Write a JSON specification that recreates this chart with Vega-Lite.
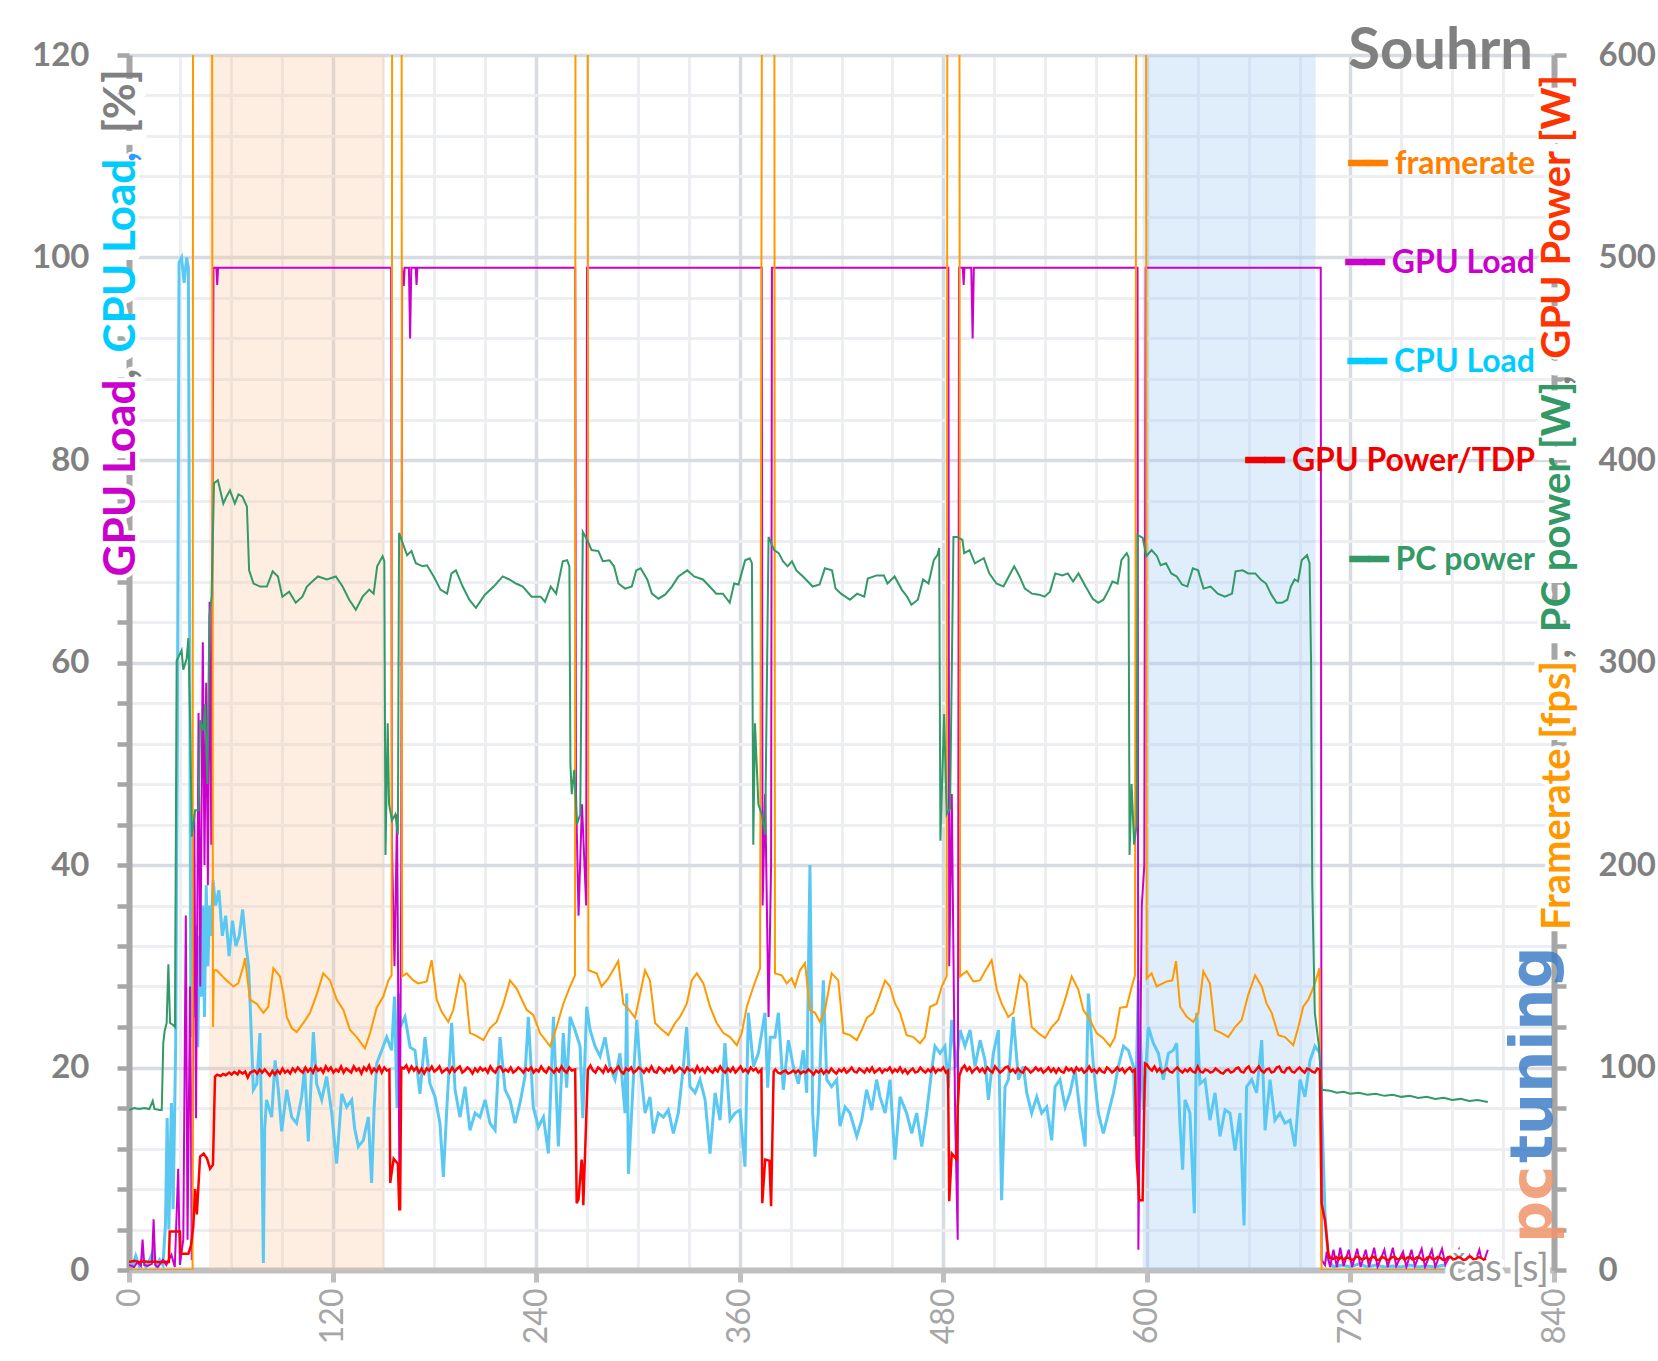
{
  "$schema": "https://vega.github.io/schema/vega-lite/v6.json",
  "width": 1425,
  "height": 1215,
  "autosize": {"type": "none"},
  "padding": {"left": 129, "top": 55, "right": 104, "bottom": 91},
  "background": "#ffffff",
  "config": {"view": {"stroke": null}, "font": "Lato"},
  "title": {"text": "Souhrn", "anchor": "end", "frame": "group", "orient": "top", "offset": -11, "baseline": "alphabetic", "dx": -21, "dy": 77, "font": "Lato", "fontSize": 58, "fontWeight": "bold", "color": "#808080"},
  "datasets": {
    "one": [{}],
    "cpu": [
      {"t":0,"v":0.8},{"t":2,"v":0.3},{"t":4,"v":1.4},{"t":6,"v":0.4},{"t":8,"v":1.2},{"t":10,"v":0.3},{"t":12,"v":0.9},{"t":14,"v":1.8},{"t":16,"v":0.4},{"t":18,"v":1},{"t":20,"v":0.5},{"t":21.5,"v":4.5},{"t":22.5,"v":15},{"t":23.5,"v":4},{"t":25,"v":16.5},{"t":26,"v":6},{"t":27.5,"v":22},{"t":28.5,"v":52},{"t":29.5,"v":99.5},{"t":31,"v":100},{"t":32.5,"v":97.5},{"t":34,"v":100},{"t":35,"v":99},{"t":35.8,"v":60},{"t":36.5,"v":23},{"t":37.5,"v":31},{"t":38.5,"v":25},{"t":39.5,"v":34},{"t":40.5,"v":22},{"t":41.5,"v":33},{"t":42.5,"v":27},{"t":43.5,"v":36},{"t":44.5,"v":25},{"t":45.5,"v":38},{"t":46.5,"v":30},{"t":47.5,"v":36},{"t":48.5,"v":33},
      {"t":49.5,"v":38.5},{"t":51,"v":36},{"t":53,"v":37.5},{"t":55,"v":33},{"t":57,"v":35},{"t":59,"v":31},{"t":61,"v":34.5},{"t":63,"v":32},{"t":65,"v":33},{"t":67,"v":35.6},{"t":69,"v":32},{"t":70.5,"v":30},{"t":71.3,"v":26.7},{"t":73.3,"v":17.8},{"t":75.3,"v":18.4},{"t":77.2,"v":23.4},{"t":78.4,"v":12},{"t":79.2,"v":0.7},{"t":80,"v":14},{"t":81.1,"v":16.8},{"t":84.1,"v":15.1},{"t":86.1,"v":20.7},{"t":88,"v":17.8},{"t":90,"v":13.7},{"t":93,"v":17.8},{"t":95.9,"v":15.1},{"t":98.8,"v":14.5},{"t":101.8,"v":17.1},{"t":103.5,"v":20},{"t":105.7,"v":12.7},{"t":108.7,"v":23.5},{"t":110.6,"v":18.4},{"t":113.6,"v":16.8},{"t":116.5,"v":19.1},{"t":119.5,"v":15.5},{"t":122.4,"v":10.5},{"t":125.4,"v":17.4},{"t":128.3,"v":16.1},{"t":131.3,"v":16.8},{"t":133,"v":14},{"t":135.2,"v":12.2},{"t":138.1,"v":12.8},{"t":141.1,"v":15.1},{"t":143,"v":8.6},{"t":144.5,"v":16},{"t":146,"v":20.4},{"t":149,"v":21.7},{"t":151.9,"v":23},{"t":154.8,"v":21.7},{"t":156.5,"v":27},{"t":158,"v":16},{"t":158.8,"v":27.3},{"t":160,"v":24},
      {"t":162.7,"v":25},{"t":165.7,"v":22},{"t":168.6,"v":21.7},{"t":171.5,"v":17.4},{"t":174.5,"v":23},{"t":177.4,"v":18.4},{"t":180.4,"v":17.1},{"t":183.3,"v":14.5},{"t":185.3,"v":9.2},{"t":187.3,"v":15.8},{"t":190.2,"v":24.4},{"t":192.2,"v":17.8},{"t":195.1,"v":15.1},{"t":198.1,"v":18.1},{"t":201,"v":13.8},{"t":204,"v":15.5},{"t":206.9,"v":15.1},{"t":209.9,"v":16.8},{"t":212.8,"v":14.5},{"t":215.8,"v":13.8},{"t":218.7,"v":23},{"t":221.7,"v":17.8},{"t":224.6,"v":16.8},{"t":227.6,"v":14.5},{"t":230.5,"v":16.5},{"t":233.4,"v":19.1},{"t":235.4,"v":25},{"t":238.3,"v":16.1},{"t":241.3,"v":14.1},{"t":244.3,"v":15.1},{"t":247.2,"v":11.5},{"t":250.2,"v":25},{"t":253.1,"v":12.2},{"t":256,"v":23.4},{"t":258,"v":18},{"t":260,"v":25},{"t":262.9,"v":23.7},{"t":265.9,"v":22.1},{"t":267.5,"v":15},{"t":269.8,"v":26},
      {"t":271.8,"v":23.7},{"t":274.7,"v":22.1},{"t":277.7,"v":21.1},{"t":280.6,"v":23},{"t":283.5,"v":20.1},{"t":286.5,"v":18.8},{"t":289.4,"v":21.4},{"t":292.4,"v":15.5},{"t":293.4,"v":27.3},{"t":294.4,"v":9.5},{"t":297.3,"v":18.8},{"t":299.3,"v":24.7},{"t":301.2,"v":20.4},{"t":304.2,"v":15.5},{"t":307.1,"v":17.1},{"t":309.1,"v":13.5},{"t":312,"v":15.5},{"t":315,"v":15.1},{"t":317.9,"v":15.8},{"t":320.9,"v":13.5},{"t":323.8,"v":15.5},{"t":326.8,"v":20.1},{"t":328.7,"v":24},{"t":330.7,"v":18.1},{"t":333.7,"v":17.5},{"t":336.6,"v":18.8},{"t":339.6,"v":16.8},{"t":342.5,"v":11.5},{"t":345.5,"v":17.5},{"t":348.4,"v":14.8},{"t":351.3,"v":22.4},{"t":354.3,"v":14.8},{"t":357.2,"v":15.5},{"t":360.2,"v":15.8},{"t":363.1,"v":10.2},{"t":365.1,"v":25.4},{"t":368.1,"v":20.1},{"t":371,"v":21.4},{"t":374.9,"v":25.4},{"t":376.5,"v":18},{"t":378,"v":23},
      {"t":380.8,"v":23},{"t":382.8,"v":25.4},{"t":385.7,"v":17.8},{"t":388.7,"v":22.7},{"t":391.6,"v":20.1},{"t":394.6,"v":18.4},{"t":397.5,"v":21.7},{"t":399.5,"v":17.5},{"t":401.4,"v":40},{"t":403,"v":15.5},{"t":404.4,"v":11.2},{"t":406.3,"v":15.5},{"t":409.3,"v":28.6},{"t":411.3,"v":18.8},{"t":414.2,"v":18.1},{"t":417.2,"v":18.8},{"t":419.1,"v":14.2},{"t":422.1,"v":16.1},{"t":425,"v":15.5},{"t":429,"v":13.2},{"t":431.9,"v":14.8},{"t":434.8,"v":17.8},{"t":437.8,"v":15.8},{"t":440.7,"v":18.8},{"t":442.7,"v":17.1},{"t":445.7,"v":15.5},{"t":448.6,"v":18.8},{"t":451.5,"v":10.9},{"t":454.5,"v":17.1},{"t":458.4,"v":15.5},{"t":461.4,"v":13.5},{"t":464.3,"v":15.5},{"t":467.3,"v":12.2},{"t":470.2,"v":15.5},{"t":473.2,"v":19.8},{"t":475.1,"v":22.1},{"t":478.1,"v":21.4},{"t":481,"v":22.1},{"t":483,"v":18},{"t":485,"v":24.7},{"t":487.5,"v":20},
      {"t":489.9,"v":23.7},{"t":492.8,"v":22.1},{"t":495.8,"v":23.7},{"t":498.7,"v":20.1},{"t":501.7,"v":22.7},{"t":504.6,"v":20.7},{"t":506.6,"v":16.8},{"t":509.5,"v":21.4},{"t":512.5,"v":23.7},{"t":514.4,"v":6.9},{"t":516.4,"v":18.1},{"t":518.4,"v":18.8},{"t":521.3,"v":25},{"t":524.3,"v":18.8},{"t":527.2,"v":20.1},{"t":529.2,"v":17.5},{"t":532.1,"v":15.5},{"t":535.1,"v":17.1},{"t":538,"v":15.5},{"t":541,"v":16.1},{"t":543.9,"v":12.8},{"t":545.9,"v":18.1},{"t":548.8,"v":18.8},{"t":551.8,"v":16.1},{"t":554.7,"v":17.5},{"t":557.7,"v":19.8},{"t":560.6,"v":15.5},{"t":563.6,"v":12.2},{"t":565.5,"v":27.3},{"t":568.5,"v":20.1},{"t":571.4,"v":15.5},{"t":574.4,"v":13.5},{"t":577.3,"v":15.5},{"t":580.3,"v":17.5},{"t":583.2,"v":20.1},{"t":586.2,"v":22.1},{"t":589.1,"v":21.7},{"t":592.1,"v":20.1},{"t":593,"v":13.2},{"t":595,"v":28.6},{"t":596,"v":23.7},{"t":597.9,"v":15.8},
      {"t":600.9,"v":24},{"t":603.8,"v":22.4},{"t":606.8,"v":21.4},{"t":609.7,"v":18.8},{"t":612.7,"v":21.4},{"t":615.6,"v":21.7},{"t":617.6,"v":22.4},{"t":619.5,"v":14.5},{"t":621.1,"v":9.9},{"t":622.5,"v":16.8},{"t":625.4,"v":15.5},{"t":628,"v":5.6},{"t":629.4,"v":25.4},{"t":631.3,"v":18.4},{"t":634.3,"v":18.8},{"t":637.2,"v":14.8},{"t":640.2,"v":17.5},{"t":643.1,"v":13.2},{"t":646.1,"v":15.8},{"t":649,"v":15.5},{"t":652,"v":11.8},{"t":654.9,"v":15.5},{"t":657.3,"v":4.4},{"t":658.8,"v":18.1},{"t":661.8,"v":18.8},{"t":664.7,"v":17.5},{"t":667.7,"v":22.7},{"t":669.7,"v":13.8},{"t":672.6,"v":18.8},{"t":675.5,"v":14.8},{"t":678.5,"v":15.5},{"t":681.4,"v":14.5},{"t":684.4,"v":14.8},{"t":687.3,"v":12.2},{"t":690.3,"v":18.8},{"t":693.2,"v":17.1},{"t":696.2,"v":20.7},{"t":699.1,"v":22.1},{"t":702.1,"v":21.4},{"t":705,"v":5.6},{"t":707,"v":1},{"t":710,"v":0.3},{"t":715,"v":0.5},{"t":720,"v":0.3},{"t":725,"v":0.6},{"t":730,"v":0.3},{"t":735,"v":0.5},{"t":740,"v":0.3},{"t":745,"v":0.4},{"t":750,"v":0.3},{"t":755,"v":0.5},{"t":760,"v":0.3},{"t":765,"v":0.4},{"t":770,"v":0.3},{"t":775,"v":0.5},{"t":780,"v":0.3},{"t":785,"v":0.4},{"t":790,"v":0.3},{"t":795,"v":0.5},{"t":800,"v":0.3}
    ],
    "gl": [
      {"t":0,"v":0.5},{"t":3,"v":0.3},{"t":5,"v":0.8},{"t":7,"v":0.4},{"t":8,"v":3},{"t":9,"v":0.5},{"t":11,"v":0.4},{"t":13.5,"v":0.6},{"t":14.5,"v":5},{"t":15.5,"v":0.5},{"t":17,"v":0.3},{"t":20,"v":1},{"t":22,"v":0.5},{"t":25,"v":1.5},{"t":27,"v":0.3},{"t":29,"v":10},{"t":30,"v":0.5},{"t":32,"v":3},{"t":33.5,"v":35},{"t":34.5,"v":3},{"t":36,"v":28},{"t":37,"v":1},{"t":38.5,"v":45},{"t":39.5,"v":15},{"t":41,"v":55},{"t":42,"v":28},{"t":43.5,"v":62},{"t":44.5,"v":40},{"t":45.5,"v":58},{"t":46.5,"v":38},{"t":47.5,"v":66},{"t":48.5,"v":42},{"t":49.8,"v":99},{"t":51.5,"v":99},{"t":52,"v":97.3},{"t":52.5,"v":99},
      {"t":154.5,"v":99},{"t":155,"v":42},{"t":156.5,"v":30},{"t":158,"v":45},{"t":159.5,"v":6},{"t":160.5,"v":40},{"t":161,"v":99},{"t":162,"v":97.2},{"t":162.5,"v":99},{"t":165,"v":99},{"t":165.7,"v":92},{"t":166.4,"v":99},{"t":169,"v":99},{"t":169.5,"v":97.3},{"t":170,"v":99},
      {"t":263,"v":99},{"t":263.5,"v":47},{"t":265,"v":35},{"t":267,"v":46},{"t":269.5,"v":36},{"t":270,"v":99},
      {"t":373,"v":99},{"t":373.5,"v":36},{"t":375,"v":47},{"t":377,"v":25},{"t":378.5,"v":40},{"t":379,"v":99},
      {"t":483,"v":99},{"t":483.5,"v":30},{"t":485,"v":47},{"t":487,"v":15},{"t":488.5,"v":3},{"t":489.3,"v":99},{"t":491.5,"v":99},{"t":492,"v":97.3},{"t":492.5,"v":99},{"t":496.5,"v":99},{"t":497.3,"v":92},{"t":498,"v":99},
      {"t":594.5,"v":99},{"t":595,"v":2},{"t":597,"v":36},{"t":598.5,"v":40},{"t":599.3,"v":99},
      {"t":702.5,"v":99},{"t":703,"v":1},{"t":705,"v":0.5},{"t":706,"v":1.8},{"t":708,"v":0.3},{"t":710,"v":2},{"t":712,"v":0.3},{"t":714,"v":2.2},{"t":716,"v":0.4},{"t":719,"v":2},{"t":721,"v":0.3},{"t":724,"v":2.1},{"t":726,"v":0.3},{"t":729,"v":2},{"t":731,"v":0.3},{"t":734,"v":2.2},{"t":736,"v":0.3},{"t":740,"v":2},{"t":742,"v":0.3},{"t":745,"v":2.2},{"t":747,"v":0.4},{"t":751,"v":1.8},{"t":753,"v":0.3},{"t":756,"v":2},{"t":758,"v":0.4},{"t":762,"v":2.1},{"t":764,"v":0.3},{"t":768,"v":2},{"t":770,"v":0.3},{"t":774,"v":2.1},{"t":776,"v":0.5},{"t":779,"v":1.5},{"t":781,"v":0.5},{"t":784,"v":2},{"t":786,"v":0.4},{"t":790,"v":1.5},{"t":793,"v":0.5},{"t":796,"v":2},{"t":798,"v":0.5},{"t":801,"v":2}
    ],
    "fr": [
      {"t":0,"v":0},{"t":37.5,"v":0},{"t":37.8,"v":800},{"t":48.8,"v":800},{"t":49.5,"v":120},{"t":50,"v":148},{"t":51.7,"v":148},{"t":54.6,"v":145.5},{"t":57.6,"v":143},{"t":59.5,"v":141.5},{"t":61.5,"v":140},{"t":64.4,"v":141.5},{"t":67.4,"v":150},{"t":68.4,"v":154},{"t":71.3,"v":133.5},{"t":75.3,"v":131.5},{"t":79.2,"v":127},{"t":82.1,"v":130},{"t":85.1,"v":149},{"t":89,"v":145},{"t":91,"v":136.5},{"t":93,"v":125},{"t":95.9,"v":119.5},{"t":98.9,"v":117.5},{"t":102.8,"v":122},{"t":106.7,"v":127},{"t":110.6,"v":136},{"t":114.5,"v":146.5},{"t":118.5,"v":143},{"t":122.4,"v":133.5},{"t":126.3,"v":128.5},{"t":130.3,"v":118.5},{"t":134.2,"v":115},{"t":139.1,"v":109.5},{"t":142.1,"v":117},{"t":146,"v":129.5},{"t":149.9,"v":135},{"t":152.9,"v":143},{"t":154.8,"v":145.5},
      {"t":155.2,"v":800},{"t":160.6,"v":800},{"t":161,"v":145},{"t":163.7,"v":146.5},{"t":167.6,"v":143},{"t":170.5,"v":141.5},{"t":175.5,"v":142.5},{"t":178.4,"v":153},{"t":181.4,"v":133.5},{"t":184.3,"v":127.5},{"t":188.2,"v":122.5},{"t":191.2,"v":128.5},{"t":195.1,"v":145.5},{"t":198.1,"v":141.5},{"t":201,"v":117},{"t":204,"v":116},{"t":208.9,"v":113.5},{"t":212.8,"v":119.5},{"t":216.7,"v":122.5},{"t":220.7,"v":131.5},{"t":224.6,"v":143},{"t":228.5,"v":139},{"t":234.4,"v":128.5},{"t":238.3,"v":126},{"t":242.3,"v":117},{"t":248.2,"v":110.5},{"t":252.1,"v":120},{"t":256,"v":131.5},{"t":260,"v":140},{"t":262.9,"v":145.5},
      {"t":263.3,"v":800},{"t":270.3,"v":800},{"t":270.8,"v":148},{"t":275.7,"v":146.5},{"t":278.6,"v":140},{"t":282.5,"v":144},{"t":288.4,"v":152.5},{"t":291.4,"v":131.5},{"t":294.3,"v":129},{"t":298.3,"v":124.5},{"t":304.2,"v":148},{"t":307.1,"v":143},{"t":310.1,"v":122},{"t":313,"v":119.5},{"t":317.9,"v":116},{"t":321.9,"v":122},{"t":324.8,"v":125},{"t":328.8,"v":131.5},{"t":331.7,"v":143},{"t":334.7,"v":146.5},{"t":338.6,"v":141.5},{"t":342.5,"v":130},{"t":346.4,"v":122},{"t":350.4,"v":117},{"t":354.3,"v":115},{"t":358.3,"v":111},{"t":361.2,"v":117},{"t":364.2,"v":130},{"t":368.1,"v":140},{"t":372,"v":149},
      {"t":373.5,"v":800},{"t":380.3,"v":800},{"t":380.8,"v":146.5},{"t":384.8,"v":145.5},{"t":387.7,"v":141.5},{"t":390.6,"v":144},{"t":392.6,"v":140},{"t":395.5,"v":148},{"t":398.5,"v":151.5},{"t":401.4,"v":128.5},{"t":404.4,"v":127},{"t":407.3,"v":122.5},{"t":410.3,"v":128.5},{"t":414.2,"v":146.5},{"t":418.1,"v":143},{"t":421.1,"v":117},{"t":425,"v":116},{"t":429,"v":113.5},{"t":431.9,"v":118.5},{"t":434.9,"v":124.5},{"t":438.8,"v":127},{"t":441.7,"v":133.5},{"t":445.7,"v":143},{"t":448.6,"v":140},{"t":451.6,"v":131.5},{"t":454.5,"v":127},{"t":458.4,"v":116},{"t":462.4,"v":115},{"t":466.3,"v":112},{"t":469.2,"v":115},{"t":472.2,"v":130},{"t":476.1,"v":131.5},{"t":479.1,"v":140},{"t":482,"v":145},
      {"t":482.5,"v":800},{"t":489.4,"v":800},{"t":489.9,"v":145},{"t":493.8,"v":147.5},{"t":497.7,"v":142.5},{"t":501.6,"v":143},{"t":504.6,"v":147.5},{"t":508.5,"v":153},{"t":511.5,"v":138.5},{"t":514.4,"v":131.5},{"t":518.3,"v":125},{"t":521.3,"v":127},{"t":525.2,"v":145.5},{"t":529.2,"v":141.5},{"t":532.1,"v":120},{"t":536,"v":117},{"t":540,"v":114.5},{"t":543.9,"v":120},{"t":547.8,"v":123.5},{"t":551.8,"v":133.5},{"t":555.7,"v":145},{"t":559.6,"v":138.5},{"t":562.5,"v":128.5},{"t":566.5,"v":123.5},{"t":570.4,"v":117},{"t":574.3,"v":114.5},{"t":578.3,"v":110.5},{"t":581.2,"v":115},{"t":584.2,"v":129.5},{"t":588.1,"v":130},{"t":591.1,"v":140},{"t":593,"v":145.5},
      {"t":594,"v":800},{"t":599.4,"v":800},{"t":599.9,"v":144},{"t":602.8,"v":146.5},{"t":605.8,"v":140},{"t":611.7,"v":142.5},{"t":615,"v":143},{"t":617.2,"v":152.5},{"t":619.6,"v":130},{"t":623.5,"v":125},{"t":627.4,"v":122.5},{"t":630.4,"v":127},{"t":633.3,"v":147.5},{"t":637.2,"v":141.5},{"t":640.2,"v":118.5},{"t":644.1,"v":117},{"t":648,"v":115},{"t":652,"v":120},{"t":655.9,"v":123.5},{"t":659.8,"v":136},{"t":663.8,"v":145.5},{"t":667.7,"v":140},{"t":670.6,"v":131.5},{"t":673.6,"v":127},{"t":677.5,"v":116},{"t":681.4,"v":115},{"t":686.3,"v":111},{"t":689.3,"v":120},{"t":692.2,"v":130},{"t":695.2,"v":133.5},{"t":699.1,"v":141.5},{"t":701.7,"v":149},{"t":703,"v":0},{"t":775,"v":0}
    ],
    "pc": [
      {"t":0,"v":79},{"t":3,"v":80},{"t":6,"v":79.5},{"t":9,"v":80},{"t":12,"v":79.5},{"t":14,"v":83.5},{"t":15,"v":79.5},{"t":18,"v":79},{"t":19.3,"v":79},{"t":20.2,"v":112},{"t":21,"v":118},{"t":22.2,"v":122},{"t":23.2,"v":151},{"t":24.2,"v":122},{"t":26,"v":121},{"t":27.1,"v":120},{"t":28.1,"v":301},{"t":31,"v":306},{"t":32,"v":296.5},{"t":34,"v":302},{"t":35,"v":312},{"t":36,"v":273},{"t":37,"v":214},{"t":39,"v":227},{"t":41,"v":227},{"t":41.9,"v":271.5},{"t":43.8,"v":266.5},{"t":44.8,"v":279.5},{"t":46.2,"v":240},{"t":47.4,"v":322.5},{"t":48.7,"v":332.5},{"t":50.1,"v":388.5},{"t":52.4,"v":390},{"t":55.6,"v":378.5},{"t":57.5,"v":382},{"t":59.5,"v":385},{"t":62.4,"v":378.5},{"t":64.5,"v":383},{"t":66.8,"v":382},{"t":69.5,"v":377},{"t":70.8,"v":345.5},{"t":73.4,"v":339},{"t":77.3,"v":337.5},{"t":81.3,"v":337.5},{"t":84.7,"v":345},{"t":87.8,"v":342.5},{"t":90.4,"v":332.5},{"t":94.4,"v":335},{"t":98.3,"v":329.5},{"t":102.2,"v":332.5},{"t":104.9,"v":337.5},{"t":108,"v":340},{"t":111.4,"v":342.5},{"t":116.7,"v":341},{"t":121.9,"v":342.5},{"t":125.9,"v":337.5},{"t":129.8,"v":331},{"t":133.7,"v":326},{"t":137.7,"v":332.5},{"t":141.6,"v":336},{"t":144.2,"v":334},{"t":146.3,"v":347.5},{"t":149.5,"v":352.5},{"t":150.5,"v":350},
      {"t":151.2,"v":205},{"t":152.5,"v":270},{"t":153.3,"v":230},{"t":155,"v":222},{"t":157,"v":225},{"t":158.5,"v":215},{"t":159.2,"v":364},{"t":161.3,"v":359},{"t":163.9,"v":353},{"t":166.5,"v":355},{"t":169.1,"v":349},{"t":173.1,"v":347.5},{"t":175.7,"v":348},{"t":179.6,"v":342.5},{"t":183.6,"v":336},{"t":187.5,"v":334},{"t":190.1,"v":344},{"t":192.7,"v":345.5},{"t":196.7,"v":337.5},{"t":200.6,"v":331},{"t":204.5,"v":327},{"t":209.8,"v":333.5},{"t":215,"v":337.5},{"t":220.3,"v":342.5},{"t":224.2,"v":341},{"t":228.1,"v":339},{"t":232.1,"v":337.5},{"t":237.3,"v":332.5},{"t":242.6,"v":332.5},{"t":245.2,"v":330},{"t":248.6,"v":337.5},{"t":251.8,"v":334},{"t":255.7,"v":350},{"t":258.3,"v":350.5},{"t":259.6,"v":347.5},
      {"t":260.2,"v":250},{"t":261,"v":235},{"t":262.5,"v":247},{"t":264,"v":220},{"t":266,"v":225},{"t":267.5,"v":364.5},{"t":270.1,"v":360.5},{"t":272.7,"v":355.5},{"t":276.7,"v":355},{"t":279.3,"v":350},{"t":283.2,"v":350.5},{"t":285.9,"v":347.5},{"t":288.5,"v":339},{"t":292.4,"v":336.5},{"t":296.4,"v":337.5},{"t":299,"v":345.5},{"t":301.6,"v":346.5},{"t":305.5,"v":341},{"t":308.2,"v":334},{"t":312.1,"v":331.5},{"t":316,"v":333.5},{"t":320,"v":337.5},{"t":323.9,"v":342.5},{"t":329.1,"v":345.5},{"t":333.1,"v":342.5},{"t":338.3,"v":341},{"t":342.3,"v":337.5},{"t":346.2,"v":334},{"t":350.1,"v":334},{"t":354.1,"v":329.5},{"t":356.7,"v":339},{"t":359.3,"v":338.5},{"t":363.2,"v":350.5},{"t":365.9,"v":351.5},{"t":367.2,"v":349},
      {"t":368,"v":210},{"t":369,"v":270},{"t":371,"v":230},{"t":373,"v":225},{"t":375,"v":215},{"t":377,"v":362},{"t":380.3,"v":355.5},{"t":383,"v":354},{"t":385.5,"v":350},{"t":388.2,"v":347.5},{"t":390.8,"v":350},{"t":393.4,"v":345.5},{"t":397.3,"v":342.5},{"t":401.3,"v":339},{"t":403,"v":337.5},{"t":407.1,"v":338.5},{"t":410.2,"v":346.5},{"t":414.4,"v":345.5},{"t":416.5,"v":336.5},{"t":419.7,"v":334},{"t":425,"v":331},{"t":429.2,"v":334},{"t":433.4,"v":332.5},{"t":435.5,"v":341.5},{"t":440.8,"v":343},{"t":445,"v":343},{"t":447.1,"v":339},{"t":451.3,"v":342.5},{"t":455.5,"v":336},{"t":458.7,"v":332.5},{"t":461.2,"v":328.5},{"t":465,"v":331},{"t":468.1,"v":341},{"t":471.3,"v":339},{"t":474.4,"v":350.5},{"t":476.5,"v":353},{"t":477.6,"v":356.5},
      {"t":478.3,"v":212},{"t":480.5,"v":274.5},{"t":482,"v":225},{"t":484,"v":228},{"t":486,"v":362},{"t":488.1,"v":362},{"t":491.3,"v":360.5},{"t":492.3,"v":354},{"t":495.5,"v":355.5},{"t":498.6,"v":349},{"t":503.9,"v":351.5},{"t":507.1,"v":344},{"t":511.3,"v":339},{"t":515.5,"v":337.5},{"t":518.6,"v":342.5},{"t":521.8,"v":347.5},{"t":525,"v":342.5},{"t":528.1,"v":336.5},{"t":532.3,"v":334},{"t":536.5,"v":333.5},{"t":539.7,"v":332.5},{"t":542.9,"v":335},{"t":546,"v":344},{"t":550.2,"v":343},{"t":553.4,"v":344},{"t":556.5,"v":340},{"t":559.7,"v":344},{"t":563.9,"v":337.5},{"t":568.1,"v":331.5},{"t":571.3,"v":329.5},{"t":574.4,"v":331},{"t":577.6,"v":336},{"t":579.7,"v":340},{"t":582.8,"v":339},{"t":585,"v":350.5},{"t":588.1,"v":354},{"t":589.2,"v":352},
      {"t":589.8,"v":205},{"t":591,"v":240},{"t":592.5,"v":210},{"t":594,"v":220},{"t":594.5,"v":363},{"t":597.6,"v":361.5},{"t":599.7,"v":352.5},{"t":602.8,"v":355.5},{"t":606,"v":352.5},{"t":608.1,"v":348},{"t":611.3,"v":349},{"t":614.4,"v":344},{"t":617.6,"v":342.5},{"t":620.7,"v":338.5},{"t":623.9,"v":337.5},{"t":627.1,"v":346.5},{"t":630.2,"v":345.5},{"t":633.4,"v":336.5},{"t":637.6,"v":337.5},{"t":641.8,"v":334},{"t":646,"v":332.5},{"t":650.2,"v":334},{"t":652.3,"v":345},{"t":656.5,"v":345.5},{"t":659.7,"v":344},{"t":663.9,"v":344},{"t":667.1,"v":341},{"t":670.2,"v":339},{"t":673.4,"v":333.5},{"t":676.5,"v":329.5},{"t":679.7,"v":329.5},{"t":682.8,"v":331},{"t":684.9,"v":337.5},{"t":687.1,"v":341},{"t":689.1,"v":340},{"t":691.3,"v":350.5},{"t":694.4,"v":353},{"t":695.9,"v":349},
      {"t":696.8,"v":300},{"t":697.5,"v":190},{"t":699,"v":127},{"t":701.5,"v":110},{"t":703,"v":89},{"t":708,"v":88.5},{"t":712,"v":87.5},{"t":716,"v":88},{"t":720,"v":87},{"t":725,"v":87.5},{"t":730,"v":86.5},{"t":735,"v":87},{"t":740,"v":86},{"t":745,"v":86.5},{"t":750,"v":85.5},{"t":755,"v":86},{"t":760,"v":85},{"t":765,"v":85.5},{"t":770,"v":84.5},{"t":775,"v":85},{"t":780,"v":84},{"t":785,"v":84.5},{"t":790,"v":83.5},{"t":795,"v":84},{"t":801,"v":83}
    ],
    "gp": [
      {"t":0,"v":4},{"t":3,"v":4.5},{"t":6,"v":3.8},{"t":9,"v":4.3},{"t":12,"v":3.9},{"t":15,"v":4.2},{"t":18,"v":3.8},{"t":21,"v":4.1},{"t":23.5,"v":4},{"t":24,"v":19},{"t":30,"v":19},{"t":30.5,"v":8},{"t":35,"v":8},{"t":36.5,"v":12},{"t":37.9,"v":21.5},{"t":39,"v":40},{"t":40,"v":27.5},{"t":41.9,"v":56},{"t":44,"v":57.5},{"t":46,"v":55},{"t":47.8,"v":50},{"t":49.5,"v":52},
      {"t":50.7,"v":95.5},{"t":52,"v":96.5},{"t":54,"v":95.8},{"t":55.5,"v":96.8},{"t":57,"v":96.2},{"t":59,"v":97.5},{"t":60.5,"v":96.5},{"t":62,"v":97.8},{"t":64,"v":96.6},{"t":65,"v":98.2},{"t":67,"v":97},{"t":68.5,"v":98},{"t":70,"v":95},{"t":71.5,"v":97.5},{"t":74,"v":98.5},{"t":75.5,"v":97},{"t":77,"v":99},{"t":78.5,"v":97.5},{"t":80,"v":99},{"t":81.5,"v":97.5},{"t":83,"v":96},{"t":84.5,"v":98.2},{"t":86,"v":96.5},{"t":87.5,"v":98.5},{"t":89,"v":97},{"t":90.5,"v":99.5},{"t":92,"v":97.5},{"t":93.5,"v":98.5},{"t":95,"v":97},{"t":96.5,"v":99.5},{"t":98,"v":98},{"t":99.5,"v":100},{"t":101,"v":98.5},{"t":102.5,"v":97.5},{"t":104,"v":100},{"t":105.5,"v":98},{"t":107,"v":99.5},{"t":108.5,"v":97.5},{"t":110,"v":100.5},{"t":111.5,"v":98.5},{"t":113,"v":99.5},{"t":114.5,"v":97.5},{"t":116,"v":100.5},{"t":117.5,"v":98.5},{"t":119,"v":100},{"t":120.5,"v":97.5},{"t":122,"v":99},{"t":123.5,"v":98},{"t":125,"v":100.5},{"t":126.5,"v":97.5},{"t":128,"v":99.5},{"t":129.5,"v":98.5},{"t":131,"v":97.5},{"t":132.5,"v":100.5},{"t":134,"v":98.5},{"t":135.5,"v":99.5},{"t":137,"v":97},{"t":138.5,"v":100},{"t":140,"v":98.5},{"t":141.5,"v":101},{"t":143,"v":97.5},{"t":144.5,"v":99.5},{"t":146,"v":98},{"t":147.5,"v":100.5},{"t":149,"v":97.5},{"t":150.5,"v":100},{"t":152,"v":98.5},{"t":153.5,"v":99},
      {"t":154,"v":43},{"t":156,"v":55},{"t":158.5,"v":52.5},{"t":159.3,"v":30},{"t":159.8,"v":30},{"t":160.5,"v":100},
      {"t":162,"v":99.5},{"t":163.5,"v":101},{"t":165,"v":98},{"t":166.5,"v":100.5},{"t":168,"v":98.5},{"t":169.5,"v":100},{"t":171,"v":97.5},{"t":172.5,"v":99.5},{"t":174,"v":97},{"t":175.5,"v":99.5},{"t":177,"v":98.5},{"t":178.5,"v":100.5},{"t":180,"v":98},{"t":181.5,"v":99},{"t":183,"v":100.5},{"t":184.5,"v":97.5},{"t":186,"v":98.5},{"t":187.5,"v":99.5},{"t":189,"v":97.5},{"t":190.5,"v":100},{"t":192,"v":98},{"t":193.5,"v":99.5},{"t":195,"v":100.5},{"t":196.5,"v":97.5},{"t":198,"v":98.5},{"t":199.5,"v":100},{"t":201,"v":99},{"t":202.5,"v":97},{"t":204,"v":99.5},{"t":205.5,"v":98},{"t":207,"v":100},{"t":208.5,"v":98.5},{"t":210,"v":99.5},{"t":211.5,"v":97.5},{"t":213,"v":100.5},{"t":214.5,"v":98.5},{"t":216,"v":97.5},{"t":217.5,"v":100},{"t":219,"v":100.5},{"t":220.5,"v":98},{"t":222,"v":99},{"t":223.5,"v":98},{"t":225,"v":100},{"t":226.5,"v":97.5},{"t":228,"v":98.5},{"t":229.5,"v":100},{"t":231,"v":99},{"t":232.5,"v":97.5},{"t":234,"v":99.5},{"t":235.5,"v":98.5},{"t":237,"v":100},{"t":238.5,"v":97.5},{"t":240,"v":99},{"t":241.5,"v":98},{"t":243,"v":100.5},{"t":244.5,"v":98.5},{"t":246,"v":97.5},{"t":247.5,"v":100},{"t":249,"v":99},{"t":250.5,"v":97.5},{"t":252,"v":99.5},{"t":253.5,"v":98},{"t":255,"v":100.5},{"t":256.5,"v":98.5},{"t":258,"v":97.5},{"t":259.5,"v":100},{"t":261,"v":98.5},{"t":263,"v":99},
      {"t":263.9,"v":33},{"t":265,"v":35},{"t":266.8,"v":54.5},{"t":267.3,"v":50},{"t":267.8,"v":32},{"t":270.5,"v":99},
      {"t":272,"v":101},{"t":273.5,"v":98.5},{"t":275,"v":97.5},{"t":276.5,"v":100},{"t":278,"v":99},{"t":279.5,"v":97.5},{"t":281,"v":100.5},{"t":282.5,"v":98},{"t":284,"v":99.5},{"t":285.5,"v":97.5},{"t":287,"v":99},{"t":288.5,"v":100.5},{"t":290,"v":98},{"t":291.5,"v":97},{"t":293,"v":99.5},{"t":294.5,"v":98.5},{"t":296,"v":100},{"t":297.5,"v":97.5},{"t":299,"v":98.5},{"t":300.5,"v":100},{"t":302,"v":99},{"t":303.5,"v":97.5},{"t":305,"v":99.5},{"t":306.5,"v":98},{"t":308,"v":100.5},{"t":309.5,"v":98},{"t":311,"v":97.5},{"t":312.5,"v":100},{"t":314,"v":99},{"t":315.5,"v":97.5},{"t":317,"v":99.5},{"t":318.5,"v":98.5},{"t":320,"v":100.5},{"t":321.5,"v":97.5},{"t":323,"v":98.5},{"t":324.5,"v":100},{"t":326,"v":99},{"t":327.5,"v":97.5},{"t":329,"v":100},{"t":330.5,"v":98.5},{"t":332,"v":99},{"t":333.5,"v":97.5},{"t":335,"v":100.5},{"t":336.5,"v":98},{"t":338,"v":99.5},{"t":339.5,"v":97.5},{"t":341,"v":100},{"t":342.5,"v":98.5},{"t":344,"v":97.5},{"t":345.5,"v":99.5},{"t":347,"v":98},{"t":348.5,"v":100.5},{"t":350,"v":98.5},{"t":351.5,"v":97.5},{"t":353,"v":99.5},{"t":354.5,"v":98},{"t":356,"v":100},{"t":357.5,"v":97.5},{"t":359,"v":99},{"t":360.5,"v":100.5},{"t":362,"v":98},{"t":363.5,"v":99},{"t":365,"v":97.5},{"t":366.5,"v":100},{"t":368,"v":98.5},{"t":369.5,"v":99.5},{"t":371,"v":97.5},{"t":372.8,"v":99},
      {"t":373.3,"v":33},{"t":375,"v":54.5},{"t":377.5,"v":54},{"t":378.5,"v":31.5},{"t":380,"v":98},
      {"t":381,"v":99},{"t":382.5,"v":97.5},{"t":384,"v":97},{"t":385.5,"v":98},{"t":387,"v":98.5},{"t":388.5,"v":97},{"t":390,"v":97.5},{"t":391.5,"v":98.5},{"t":393,"v":97.5},{"t":394.5,"v":98.5},{"t":396,"v":97},{"t":397.5,"v":98},{"t":399,"v":97.5},{"t":400.5,"v":99},{"t":402,"v":98},{"t":403.5,"v":96.5},{"t":405,"v":98.5},{"t":406.5,"v":97.5},{"t":408,"v":99},{"t":409.5,"v":97},{"t":411,"v":98.5},{"t":412.5,"v":97.5},{"t":414,"v":99.5},{"t":415.5,"v":98},{"t":417,"v":97},{"t":418.5,"v":99},{"t":420,"v":98},{"t":421.5,"v":99.5},{"t":423,"v":97.5},{"t":424.5,"v":98.5},{"t":426,"v":100},{"t":427.5,"v":98},{"t":429,"v":97.5},{"t":430.5,"v":99.5},{"t":432,"v":98.5},{"t":433.5,"v":97.5},{"t":435,"v":99.5},{"t":436.5,"v":98},{"t":438,"v":100},{"t":439.5,"v":97.5},{"t":441,"v":98.5},{"t":442.5,"v":99.5},{"t":444,"v":97.5},{"t":445.5,"v":99},{"t":447,"v":98.5},{"t":448.5,"v":100},{"t":450,"v":97.5},{"t":451.5,"v":99},{"t":453,"v":98},{"t":454.5,"v":100},{"t":456,"v":97.5},{"t":457.5,"v":99},{"t":459,"v":97},{"t":460.5,"v":98.5},{"t":462,"v":99.5},{"t":463.5,"v":97.5},{"t":465,"v":98},{"t":466.5,"v":100},{"t":468,"v":98.5},{"t":469.5,"v":97.5},{"t":471,"v":99},{"t":472.5,"v":98},{"t":474,"v":100},{"t":475.5,"v":97.5},{"t":477,"v":99},{"t":478.5,"v":98.5},{"t":480,"v":100},{"t":481.5,"v":97.5},{"t":482.8,"v":98.5},
      {"t":483.5,"v":34},{"t":485,"v":57.5},{"t":487.9,"v":54.5},{"t":488.5,"v":80},{"t":489.5,"v":96},
      {"t":491,"v":99.5},{"t":492.5,"v":101},{"t":494,"v":98.5},{"t":495.5,"v":100},{"t":497,"v":97.5},{"t":498.5,"v":99},{"t":500,"v":100},{"t":501.5,"v":98},{"t":503,"v":99.5},{"t":504.5,"v":97.5},{"t":506,"v":100},{"t":507.5,"v":98.5},{"t":509,"v":97.5},{"t":510.5,"v":100.5},{"t":512,"v":99},{"t":513.5,"v":97.5},{"t":515,"v":98.5},{"t":516.5,"v":100},{"t":518,"v":100.5},{"t":519.5,"v":98},{"t":521,"v":99},{"t":522.5,"v":97.5},{"t":524,"v":99.5},{"t":525.5,"v":98},{"t":527,"v":97.5},{"t":528.5,"v":100},{"t":530,"v":99},{"t":531.5,"v":97.5},{"t":533,"v":98.5},{"t":534.5,"v":100},{"t":536,"v":98.5},{"t":537.5,"v":99.5},{"t":539,"v":97.5},{"t":540.5,"v":98.5},{"t":542,"v":100},{"t":543.5,"v":98},{"t":545,"v":99.5},{"t":546.5,"v":97.5},{"t":548,"v":99.5},{"t":549.5,"v":98},{"t":551,"v":97.5},{"t":552.5,"v":100},{"t":554,"v":98.5},{"t":555.5,"v":99.5},{"t":557,"v":97.5},{"t":558.5,"v":100},{"t":560,"v":98.5},{"t":561.5,"v":99.5},{"t":563,"v":97.5},{"t":564.5,"v":98.5},{"t":566,"v":100.5},{"t":567.5,"v":98},{"t":569,"v":99},{"t":570.5,"v":97.5},{"t":572,"v":99.5},{"t":573.5,"v":98},{"t":575,"v":97.5},{"t":576.5,"v":100},{"t":578,"v":99},{"t":579.5,"v":97.5},{"t":581,"v":98.5},{"t":582.5,"v":100},{"t":584,"v":98.5},{"t":585.5,"v":99.5},{"t":587,"v":97.5},{"t":588.5,"v":99},{"t":590,"v":100},{"t":591.5,"v":98},{"t":593,"v":99},
      {"t":594,"v":54.5},{"t":595.5,"v":34.5},{"t":597.5,"v":34.5},{"t":598.9,"v":102},
      {"t":600,"v":101.5},{"t":601.5,"v":99.5},{"t":603,"v":98.5},{"t":604.5,"v":100.5},{"t":606,"v":98},{"t":607.5,"v":99.5},{"t":609,"v":97.5},{"t":610.5,"v":98.5},{"t":612,"v":99.5},{"t":613.5,"v":98},{"t":615,"v":97.5},{"t":616.5,"v":99},{"t":618,"v":100},{"t":619.5,"v":98.5},{"t":621,"v":97.5},{"t":622.5,"v":99},{"t":624,"v":98},{"t":625.5,"v":99.5},{"t":627,"v":98},{"t":628.5,"v":97.5},{"t":630,"v":100.5},{"t":631.5,"v":98},{"t":633,"v":97.5},{"t":634.5,"v":99},{"t":636,"v":98.5},{"t":637.5,"v":97.5},{"t":639,"v":98},{"t":640.5,"v":99.5},{"t":642,"v":98.5},{"t":643.5,"v":97.5},{"t":645,"v":97},{"t":646.5,"v":98.5},{"t":648,"v":99},{"t":649.5,"v":97.5},{"t":651,"v":98},{"t":652.5,"v":99.5},{"t":654,"v":100},{"t":655.5,"v":98},{"t":657,"v":97.5},{"t":658.5,"v":99.5},{"t":660,"v":100.5},{"t":661.5,"v":98},{"t":663,"v":97.5},{"t":664.5,"v":99},{"t":666,"v":100.5},{"t":667.5,"v":98.5},{"t":669,"v":97.5},{"t":670.5,"v":99},{"t":672,"v":99.5},{"t":673.5,"v":97.5},{"t":675,"v":98},{"t":676.5,"v":100},{"t":678,"v":100.5},{"t":679.5,"v":98},{"t":681,"v":97.5},{"t":682.5,"v":99.5},{"t":684,"v":100},{"t":685.5,"v":98},{"t":687,"v":97.5},{"t":688.5,"v":99},{"t":690,"v":100},{"t":691.5,"v":98.5},{"t":693,"v":97.5},{"t":694.5,"v":99.5},{"t":696,"v":99},{"t":697.5,"v":98},{"t":699,"v":97.5},{"t":700.5,"v":99.5},{"t":702,"v":99},
      {"t":703,"v":33},{"t":705,"v":24.5},{"t":707,"v":8},{"t":708,"v":6},{"t":710,"v":5.5},{"t":711.5,"v":6.5},{"t":713,"v":5.2},{"t":714.5,"v":6.4},{"t":716,"v":5},{"t":717.5,"v":6.2},{"t":719,"v":6},{"t":720.5,"v":5},{"t":722,"v":5.3},{"t":723.5,"v":6.6},{"t":725,"v":6.5},{"t":726.5,"v":5.2},{"t":728,"v":5.5},{"t":729.5,"v":6.3},{"t":731,"v":5},{"t":732.5,"v":6.2},{"t":734,"v":6.5},{"t":735.5,"v":5.1},{"t":737,"v":5},{"t":738.5,"v":6.4},{"t":740,"v":6},{"t":741.5,"v":5},{"t":743,"v":5.2},{"t":744.5,"v":6.3},{"t":746,"v":6.5},{"t":747.5,"v":5.3},{"t":749,"v":5.5},{"t":750.5,"v":6.6},{"t":752,"v":5},{"t":753.5,"v":6.1},{"t":755,"v":6.5},{"t":756.5,"v":5.2},{"t":758,"v":5.5},{"t":759.5,"v":6.4},{"t":761,"v":6},{"t":762.5,"v":5},{"t":764,"v":5.1},{"t":765.5,"v":6.2},{"t":767,"v":6.5},{"t":768.5,"v":5.3},{"t":770,"v":5.5},{"t":771.5,"v":6.5},{"t":773,"v":6},{"t":774.5,"v":5.1},{"t":776,"v":5},{"t":777.5,"v":6.3},{"t":779,"v":6.5},{"t":780.5,"v":5.2},{"t":782,"v":5.5},{"t":783.5,"v":6.4},{"t":785,"v":6},{"t":786.5,"v":5},{"t":788,"v":5.2},{"t":789.5,"v":6.3},{"t":791,"v":6.5},{"t":792.5,"v":5.3},{"t":794,"v":5.5},{"t":795.5,"v":6.4},{"t":797,"v":6},{"t":798.5,"v":5.1},{"t":800,"v":5.5}
    ]
  },
  "layer": [
    {
      "layer": [
        {
          "data": {"values": [{"start": 47.2, "end": 150.3}]},
          "mark": {"type": "rect", "color": "#f7c89a", "opacity": 0.3},
          "encoding": {"x": {"field": "start", "type": "quantitative"}, "x2": {"field": "end"}}
        },
        {
          "data": {"values": [{"start": 597.5, "end": 699.5}]},
          "mark": {"type": "rect", "color": "#a6cdf5", "opacity": 0.35},
          "encoding": {"x": {"field": "start", "type": "quantitative"}, "x2": {"field": "end"}}
        },
        {
          "data": {"name": "cpu"},
          "mark": {"type": "line", "strokeWidth": 3, "clip": true},
          "encoding": {
            "x": {
              "field": "t", "type": "quantitative",
              "scale": {"domain": [0, 840], "nice": false, "zero": false},
              "axis": {
                "values": [0,15,30,45,60,75,90,105,120,135,150,165,180,195,210,225,240,255,270,285,300,315,330,345,360,375,390,405,420,435,450,465,480,495,510,525,540,555,570,585,600,615,630,645,660,675,690,705,720,735,750,765,780,795,810,825,840],
                "labelExpr": "datum.value % 120 === 0 ? datum.label : ''",
                "labelOverlap": false,
                "labelAngle": 270,
                "labelFont": "Lato", "labelFontSize": 32, "labelColor": "#a6a6a6", "labelPadding": 6,
                "tickSize": 12, "tickWidth": 5, "tickColor": "#bfbfbf",
                "tickOpacity": {"condition": {"test": "datum.value % 120 === 0", "value": 1}, "value": 0},
                "domainColor": "#bfbfbf", "domainWidth": 6,
                "grid": true,
                "gridColor": {"condition": {"test": "datum.value % 120 === 0", "value": "#d8dbe1"}, "value": "#eceef2"},
                "gridWidth": {"condition": {"test": "datum.value % 120 === 0", "value": 3.5}, "value": 3},
                "title": null
              }
            },
            "y": {
              "field": "v", "type": "quantitative",
              "scale": {"domain": [0, 120], "nice": false, "zero": true},
              "axis": {
                "orient": "left",
                "values": [0,2,4,6,8,10,12,14,16,18,20,22,24,26,28,30,32,34,36,38,40,42,44,46,48,50,52,54,56,58,60,62,64,66,68,70,72,74,76,78,80,82,84,86,88,90,92,94,96,98,100,102,104,106,108,110,112,114,116,118,120],
                "labelExpr": "datum.value % 10 === 0 ? datum.label : ''",
                "labelOverlap": false,
                "labelFont": "Lato", "labelFontSize": 33, "labelFontWeight": "bold", "labelColor": "#808080", "labelPadding": 28,
                "tickSize": 12, "tickWidth": 4.5, "tickColor": "#a6a6a6",
                "domainColor": "#a6a6a6", "domainWidth": 6,
                "grid": true,
                "gridColor": {"condition": {"test": "datum.value % 10 === 0", "value": "#d8dbe1"}, "value": "#eceef2"},
                "gridWidth": {"condition": {"test": "datum.value % 10 === 0", "value": 3.5}, "value": 3},
                "title": null
              }
            },
            "color": {
              "datum": "CPU Load", "type": "nominal",
              "scale": {"domain": ["framerate", "GPU Load", "CPU Load", "GPU Power/TDP", "PC power"], "range": ["#ff9900", "#cc00cc", "#5bc8f2", "#ff0000", "#339966"]},
              "legend": {
                "orient": "none", "legendX": 1374, "legendY": 93, "direction": "vertical", "title": null,
                "symbolSize": 0, "symbolOpacity": 0, "symbolStrokeWidth": 0,
                "labelExpr": "'━━  ' + datum.label",
                "labelAlign": "right", "labelFont": "Lato", "labelFontSize": 32, "labelFontWeight": "bold",
                "labelOffset": 0, "labelLimit": 500, "rowPadding": 67, "padding": 0,
                "encode": {"labels": {"update": {"fill": {"signal": "datum.value === 'framerate' ? '#ff8000' : datum.value === 'GPU Load' ? '#cc00cc' : datum.value === 'CPU Load' ? '#00ccff' : datum.value === 'GPU Power/TDP' ? '#ee0000' : '#339966'"}}}}
              }
            }
          }
        },
        {
          "data": {"name": "gl"},
          "mark": {"type": "line", "strokeWidth": 2, "clip": true},
          "encoding": {
            "x": {"field": "t", "type": "quantitative"},
            "y": {"field": "v", "type": "quantitative"},
            "color": {"datum": "GPU Load", "type": "nominal"}
          }
        },
        {
          "data": {"name": "one"},
          "mark": {"type": "text", "text": "čas [s]", "align": "right", "baseline": "middle", "font": "Lato", "fontSize": 38, "fill": "#ffffff", "stroke": "#ffffff", "strokeWidth": 9, "strokeJoin": "round"},
          "encoding": {"x": {"datum": 837, "type": "quantitative"}, "y": {"datum": 0, "type": "quantitative"}}
        },
        {
          "data": {"name": "one"},
          "mark": {"type": "text", "text": "čas [s]", "align": "right", "baseline": "middle", "font": "Lato", "fontSize": 38, "fill": "#999999"},
          "encoding": {"x": {"datum": 837, "type": "quantitative"}, "y": {"datum": 0, "type": "quantitative"}}
        },
        {
          "data": {"name": "one"},
          "mark": {"type": "text", "text": "GPU Load, CPU Load,  [%]", "angle": 270, "align": "left", "baseline": "middle", "font": "Lato", "fontSize": 44, "fontWeight": "bold", "fill": "#ffffff", "stroke": "#ffffff", "strokeWidth": 9, "strokeJoin": "round"},
          "encoding": {"x": {"datum": -4.4, "type": "quantitative"}, "y": {"datum": 68.5, "type": "quantitative"}}
        },
        {
          "data": {"name": "one"},
          "mark": {"type": "text", "text": "GPU Load", "angle": 270, "align": "left", "baseline": "middle", "font": "Lato", "fontSize": 44, "fontWeight": "bold", "fill": "#cc00cc"},
          "encoding": {"x": {"datum": -4.4, "type": "quantitative"}, "y": {"datum": 68.5, "type": "quantitative"}}
        },
        {
          "data": {"name": "one"},
          "mark": {"type": "text", "text": ",", "angle": 270, "align": "left", "baseline": "middle", "font": "Lato", "fontSize": 44, "fontWeight": "bold", "fill": "#808080"},
          "encoding": {"x": {"datum": -4.4, "type": "quantitative"}, "y": {"datum": 88, "type": "quantitative"}}
        },
        {
          "data": {"name": "one"},
          "mark": {"type": "text", "text": "CPU Load", "angle": 270, "align": "left", "baseline": "middle", "font": "Lato", "fontSize": 44, "fontWeight": "bold", "fill": "#00ccff"},
          "encoding": {"x": {"datum": -4.4, "type": "quantitative"}, "y": {"datum": 90.6, "type": "quantitative"}}
        },
        {
          "data": {"name": "one"},
          "mark": {"type": "text", "text": ",", "angle": 270, "align": "left", "baseline": "middle", "font": "Lato", "fontSize": 44, "fontWeight": "bold", "fill": "#3399ff"},
          "encoding": {"x": {"datum": -4.4, "type": "quantitative"}, "y": {"datum": 109.4, "type": "quantitative"}}
        },
        {
          "data": {"name": "one"},
          "mark": {"type": "text", "text": "[%]", "angle": 270, "align": "left", "baseline": "middle", "font": "Lato", "fontSize": 44, "fontWeight": "bold", "fill": "#808080"},
          "encoding": {"x": {"datum": -4.4, "type": "quantitative"}, "y": {"datum": 112.3, "type": "quantitative"}}
        }
      ]
    },
    {
      "layer": [
        {
          "data": {"name": "fr"},
          "mark": {"type": "line", "strokeWidth": 2, "clip": true},
          "encoding": {
            "x": {"field": "t", "type": "quantitative"},
            "y": {
              "field": "v", "type": "quantitative",
              "scale": {"domain": [0, 600], "nice": false, "zero": true},
              "axis": {
                "orient": "right",
                "values": [0,20,40,60,80,100,120,140,160,180,200,220,240,260,280,300,320,340,360,380,400,420,440,460,480,500,520,540,560,580,600],
                "labelExpr": "datum.value % 100 === 0 ? datum.label : ''",
                "labelOverlap": false,
                "labelFont": "Lato", "labelFontSize": 33, "labelFontWeight": "bold", "labelColor": "#808080", "labelPadding": 32, "labelAlign": "left",
                "tickSize": 12, "tickWidth": 4.5, "tickColor": "#a6a6a6",
                "domainColor": "#a6a6a6", "domainWidth": 6,
                "grid": false,
                "title": null
              }
            },
            "color": {"datum": "framerate", "type": "nominal"}
          }
        },
        {
          "data": {"name": "pc"},
          "mark": {"type": "line", "strokeWidth": 2, "clip": true},
          "encoding": {
            "x": {"field": "t", "type": "quantitative"},
            "y": {"field": "v", "type": "quantitative"},
            "color": {"datum": "PC power", "type": "nominal"}
          }
        },
        {
          "data": {"name": "gp"},
          "mark": {"type": "line", "strokeWidth": 2.5, "clip": true},
          "encoding": {
            "x": {"field": "t", "type": "quantitative"},
            "y": {"field": "v", "type": "quantitative"},
            "color": {"datum": "GPU Power/TDP", "type": "nominal"}
          }
        },
        {
          "data": {"name": "one"},
          "mark": {"type": "text", "text": "Framerate [fps], PC power [W], GPU Power [W]", "angle": 270, "align": "left", "baseline": "middle", "font": "Lato", "fontSize": 40, "fontWeight": "bold", "fill": "#ffffff", "stroke": "#ffffff", "strokeWidth": 9, "strokeJoin": "round"},
          "encoding": {"x": {"datum": 842.5, "type": "quantitative"}, "y": {"datum": 167.9, "type": "quantitative"}}
        },
        {
          "data": {"name": "one"},
          "mark": {"type": "text", "text": "Framerate [fps]", "angle": 270, "align": "left", "baseline": "middle", "font": "Lato", "fontSize": 40, "fontWeight": "bold", "fill": "#ff9900"},
          "encoding": {"x": {"datum": 842.5, "type": "quantitative"}, "y": {"datum": 167.9, "type": "quantitative"}}
        },
        {
          "data": {"name": "one"},
          "mark": {"type": "text", "text": ",", "angle": 270, "align": "left", "baseline": "middle", "font": "Lato", "fontSize": 40, "fontWeight": "bold", "fill": "#808080"},
          "encoding": {"x": {"datum": 842.5, "type": "quantitative"}, "y": {"datum": 302, "type": "quantitative"}}
        },
        {
          "data": {"name": "one"},
          "mark": {"type": "text", "text": "PC power [W]", "angle": 270, "align": "left", "baseline": "middle", "font": "Lato", "fontSize": 40, "fontWeight": "bold", "fill": "#339966"},
          "encoding": {"x": {"datum": 842.5, "type": "quantitative"}, "y": {"datum": 315, "type": "quantitative"}}
        },
        {
          "data": {"name": "one"},
          "mark": {"type": "text", "text": ",", "angle": 270, "align": "left", "baseline": "middle", "font": "Lato", "fontSize": 40, "fontWeight": "bold", "fill": "#808080"},
          "encoding": {"x": {"datum": 842.5, "type": "quantitative"}, "y": {"datum": 437, "type": "quantitative"}}
        },
        {
          "data": {"name": "one"},
          "mark": {"type": "text", "text": "GPU Power [W]", "angle": 270, "align": "left", "baseline": "middle", "font": "Lato", "fontSize": 40, "fontWeight": "bold", "fill": "#ff3300"},
          "encoding": {"x": {"datum": 842.5, "type": "quantitative"}, "y": {"datum": 450, "type": "quantitative"}}
        },
        {
          "data": {"name": "one"},
          "mark": {"type": "text", "text": "pc", "angle": 270, "align": "left", "baseline": "alphabetic", "font": "DejaVu Sans", "fontSize": 59, "fontWeight": "bold", "fill": "#f0956a", "opacity": 0.85},
          "encoding": {"x": {"datum": 838.8, "type": "quantitative"}, "y": {"datum": 13.3, "type": "quantitative"}}
        },
        {
          "data": {"name": "one"},
          "mark": {"type": "text", "text": "tuning", "angle": 270, "align": "left", "baseline": "alphabetic", "font": "DejaVu Sans", "fontSize": 59, "fontWeight": "bold", "fill": "#3f7fc7", "opacity": 0.85},
          "encoding": {"x": {"datum": 838.8, "type": "quantitative"}, "y": {"datum": 52.8, "type": "quantitative"}}
        }
      ]
    }
  ],
  "resolve": {"scale": {"y": "independent"}}
}
